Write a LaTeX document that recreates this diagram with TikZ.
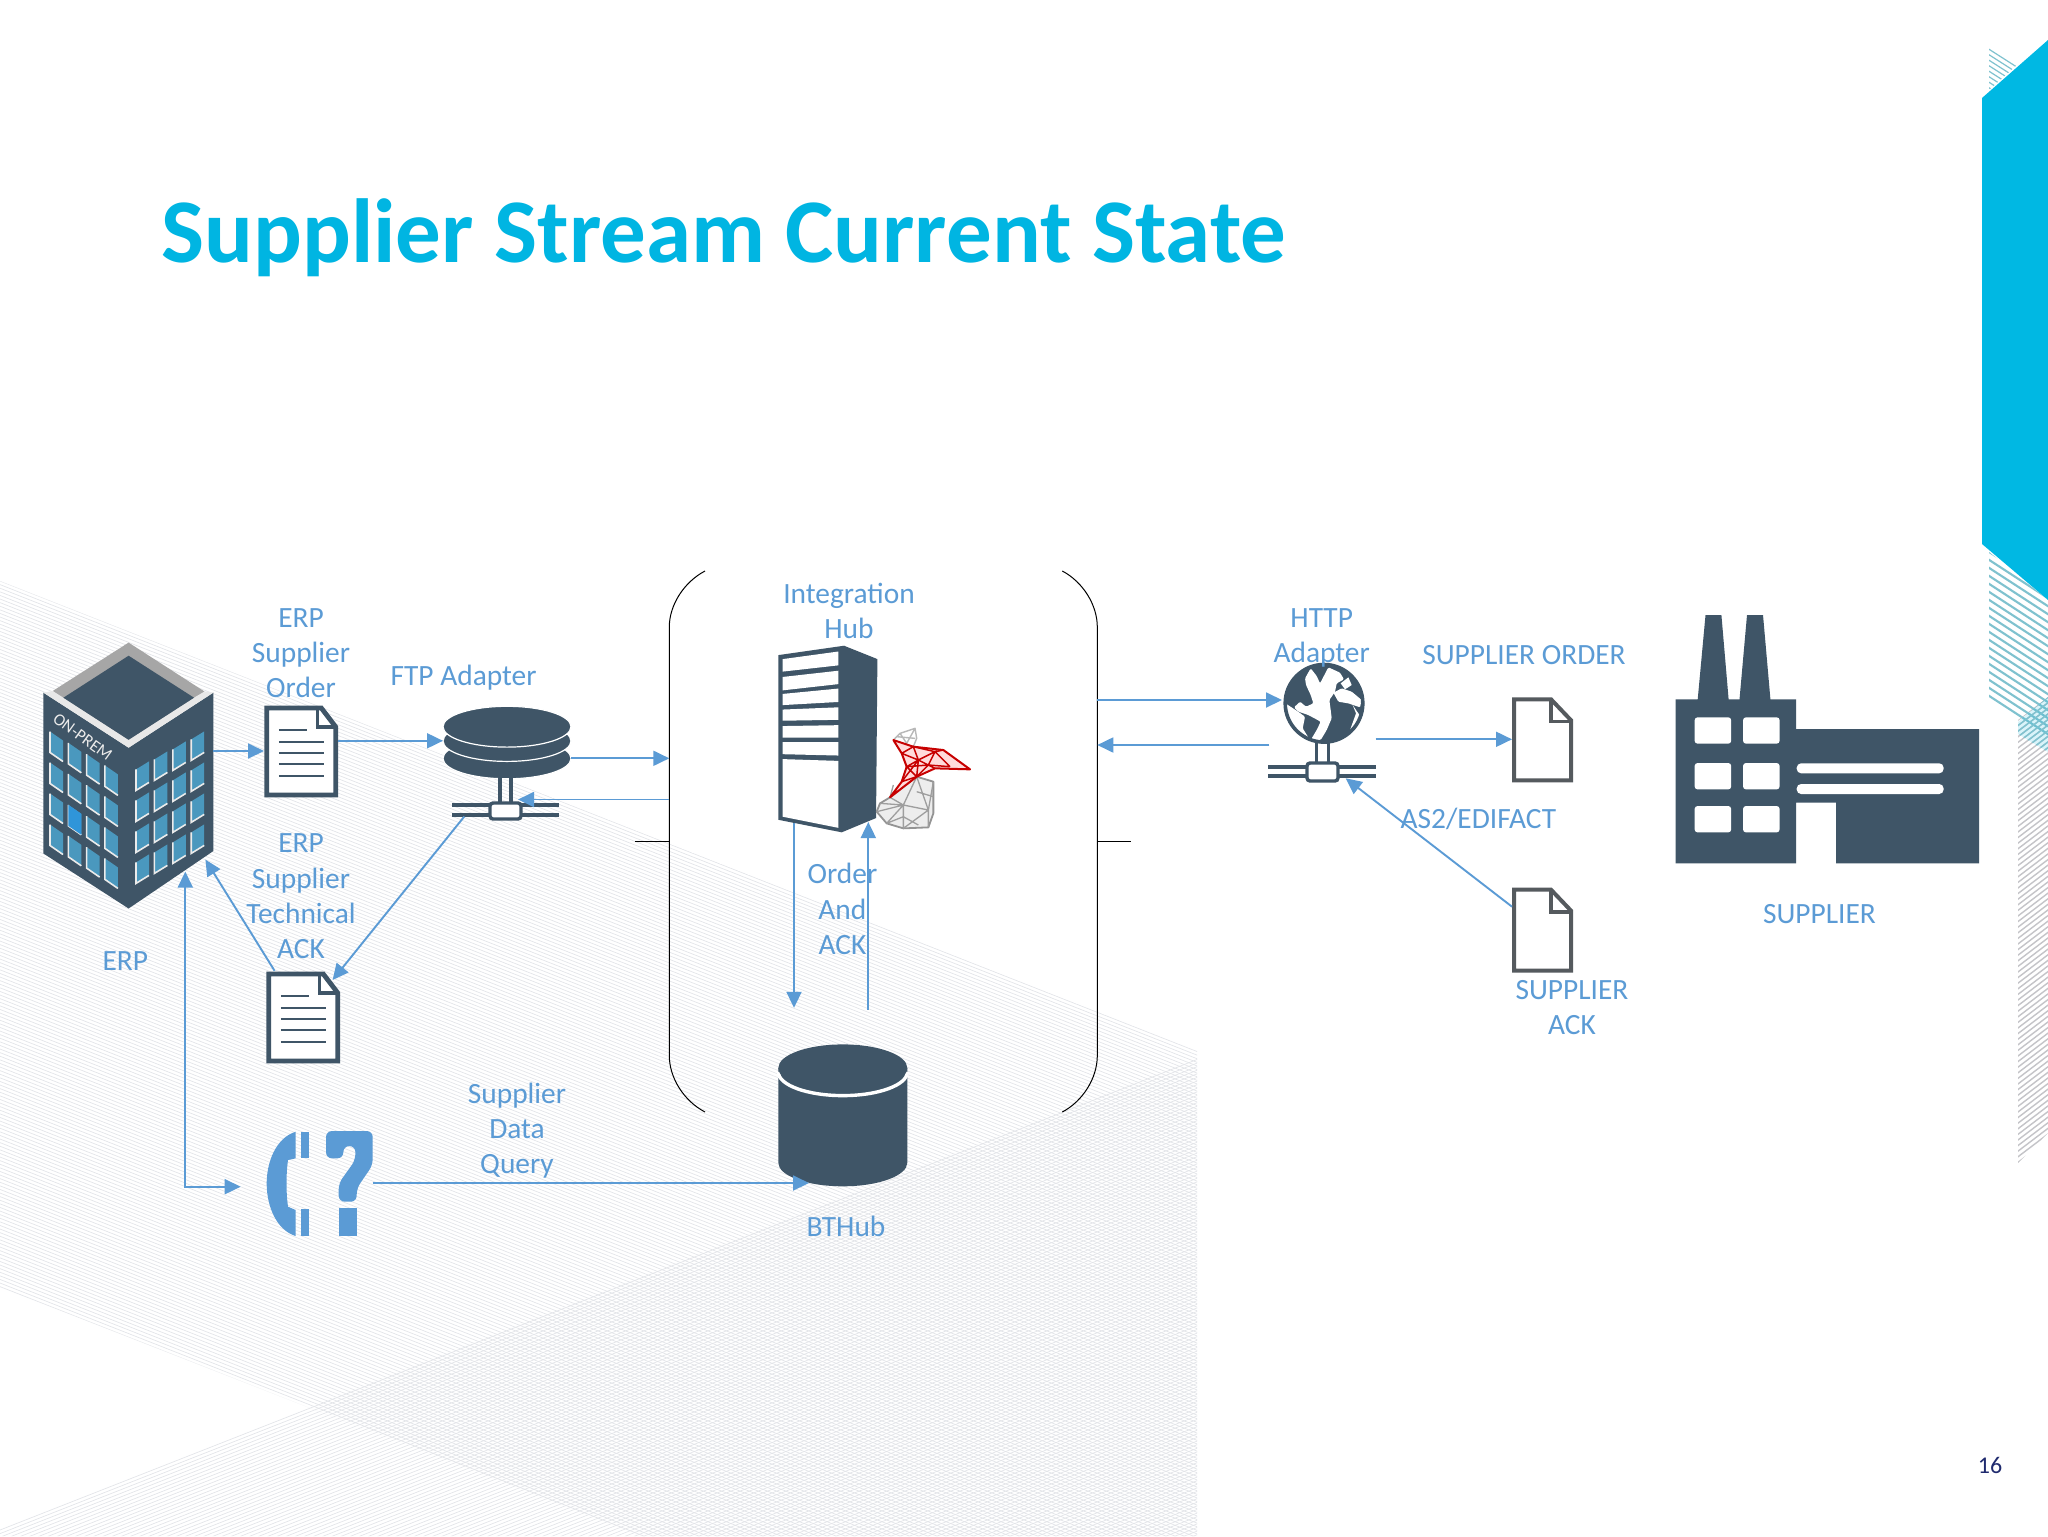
\documentclass[tikz,border=0pt]{standalone}
\usepackage{fontspec}
\setmainfont{Carlito}
\usetikzlibrary{arrows.meta}
\definecolor{ln}{HTML}{5B9BD5}
\definecolor{dk}{HTML}{3F5567}
\definecolor{cy}{HTML}{00B8E3}
\definecolor{ttl}{HTML}{00B5E2}
\definecolor{hatch}{HTML}{E2E4E8}
\definecolor{teal}{HTML}{7FC2CF}
\definecolor{graph}{HTML}{C4C4C8}
\definecolor{win}{HTML}{4A98BE}
\definecolor{docg}{HTML}{555A5E}
\tikzset{
  box/.style={inner sep=0,outer sep=0},
  conn/.style={draw=ln,line width=.95pt,-{Triangle[length=8pt,width=7.5pt]}},
  lbl/.style={text=ln,align=center,inner sep=0,font=\fontsize{14.7}{17.65}\selectfont},
  wedge/.style={draw=dk,line width=2.4pt,fill=white,miter limit=4},
  docline/.style={draw=dk,line width=1.3pt},
  blank/.style={draw=docg,line width=2pt,fill=white},
  hubline/.style={draw=black,line width=.5pt},
  busl/.style={draw=dk,line width=1.7pt},
}
\newcommand{\mydoc}[2]{%
 \begin{scope}[shift={(#1,#2)}]
  \draw[wedge] (2.5,2) -- (57,2) -- (71.5,21) -- (71.5,89) -- (2.5,89) -- cycle;
  \draw[draw=dk,line width=1.6pt] (53,3) -- (53,21) -- (71,21);
  \draw[docline] (14.5,24) -- (43,24);
  \foreach \yy in {36,47,58,70} \draw[docline] (14.5,\yy) -- (60,\yy);
 \end{scope}}
\newcommand{\myblank}[2]{%
 \begin{scope}[shift={(#1,#2)}]
  \draw[blank] (2,2) -- (39,2) -- (59,23) -- (59,83) -- (2,83) -- cycle;
  \draw[draw=docg,line width=1.8pt] (39,2) -- (39,24) -- (59,24);
 \end{scope}}
\begin{document}
\begin{tikzpicture}[x=0.5pt,y=-0.5pt]
\useasboundingbox (0,0) rectangle (2048,1536);
\fill[white] (0,0) rectangle (2048,1536);
% background bands
\begin{scope}
 \clip (0,581) -- (1197,1051) -- (1197,1536) -- (638,1536) -- (0,1287) -- cycle;
 \foreach \k in {0,...,270} \draw[hatch,line width=.32pt] (0,{581+3.6*\k}) -- (1300,{581+3.6*\k+511});
\end{scope}
\begin{scope}
 \clip (0,1523) -- (298,1403) -- (1197,1056) -- (1197,1536) -- (0,1536) -- cycle;
 \foreach \k in {0,...,135} \draw[hatch,line width=.32pt] (0,{1530+3.6*\k}) -- (1300,{1530+3.6*\k-511});
\end{scope}
% right decoration
\begin{scope}
 \clip (2018,720) -- (2048,697) -- (2048,1133) -- (2018,1163) -- cycle;
 \foreach \k in {0,...,90} \draw[graph,line width=.7pt] (2010,{726+5.6*\k}) -- (2060,{726+5.6*\k-38});
\end{scope}
\begin{scope}
 \clip (1989,552) -- (2048,600) -- (2048,738) -- (1989,702) -- cycle;
 \foreach \k in {0,...,24} \draw[teal,line width=1.05pt] (1980,{546+8*\k}) -- (2060,{546+8*\k+52});
\end{scope}
\begin{scope}
 \clip (2018,722) -- (2048,697) -- (2048,752) -- (2018,734) -- cycle;
 \fill[cy,opacity=.15] (2018,697) rectangle (2048,752);
 \foreach \k in {0,...,10} \draw[teal,line width=.7pt] (2010,{726+5.6*\k}) -- (2060,{726+5.6*\k-38});
\end{scope}
\begin{scope}
 \clip (1989,45) -- (2018,64) -- (1989,90) -- cycle;
 \foreach \k in {0,...,10} \draw[teal,line width=.6pt] (1980,{38+5.5*\k}) -- (2030,{38+5.5*\k+32});
\end{scope}
\fill[cy] (1982,98) -- (2048,40) -- (2048,600) -- (1982,544) -- cycle;

% title and page number
\node[anchor=base west,inner sep=0,text=ttl,font=\fontsize{45.5}{54}\selectfont\bfseries] (title) at (161,262) {Supplier Stream Current State};
\node[inner sep=0,text={rgb,255:red,31;green,42;blue,110},font=\fontsize{12}{14}\selectfont] (page) at (1990,1465) {16};

% hub bracket
\node[box,minimum width=214pt,minimum height=270.5pt] (hub) at (883.3,841.5) {};
\draw[hubline] (705,571) .. controls (684,582) and (669.3,605) .. (669.3,627) -- (669.3,1055.5) .. controls (669.3,1078) and (684,1101) .. (705,1112);
\draw[hubline] (1062.3,571) .. controls (1083,582) and (1097.3,605) .. (1097.3,627) -- (1097.3,1055.5) .. controls (1097.3,1078) and (1083,1101) .. (1062.3,1112);
\draw[hubline] (635,841.7) -- (669.3,841.7);
\draw[hubline] (1097.3,841.7) -- (1131,841.7);

% ERP building
\node[box,minimum width=85pt,minimum height=133pt] (erp) at (128.4,775.5) {};
\fill[dk] (43.3,692.6) -- (128.6,747.7) -- (213.4,692.6) -- (213.4,851) -- (128.6,908.5) -- (43.3,853.4) -- cycle;
\fill[black!35] (128.6,642.6) -- (52.7,691) -- (128.6,747.7) -- (204.5,691.5) -- cycle;
\fill[black!9] (52.7,691) -- (63.4,697.7) -- (128.6,739.8) -- (194,697.7) -- (204.5,691.5) -- (213.4,692.6) -- (128.6,747.7) -- (43.3,692.6) -- cycle;
\fill[dk] (128.6,655.7) -- (194,697.7) -- (128.6,739.8) -- (63.4,697.7) -- cycle;
\foreach \c in {0,1,2,3} \foreach \r in {0,1,2,3} {
  \pgfmathsetmacro{\xa}{50+18.3*\c}
  \pgfmathsetmacro{\ya}{731.5+11.3*\c+31*\r}
  \fill[win] (\xa,\ya) -- (\xa+13,\ya+9) -- (\xa+13,\ya+30) -- (\xa,\ya+21) -- cycle;
  \draw[white!92!black,line width=.8pt] (\xa,\ya) -- (\xa,\ya+21) -- (\xa+13,\ya+30);
  \pgfmathsetmacro{\xb}{136+18.4*\c}
  \pgfmathsetmacro{\yb}{769.4-10*\c+31*\r}
  \fill[win] (\xb,\yb) -- (\xb+13,\yb-8) -- (\xb+13,\yb+13) -- (\xb,\yb+21) -- cycle;
  \draw[white!92!black,line width=.8pt] (\xb,\yb) -- (\xb,\yb+21) -- (\xb+13,\yb+13);
}
\fill[cyan!70!blue!85] (68.3,804.8) -- (81.3,813.8) -- (81.3,834.8) -- (68.3,825.8) -- cycle;
\node[inner sep=0,text=white!92!black,rotate=-36,font=\fontsize{8.5}{10}\selectfont] (onprem) at (82.6,737) {ON-PREM};

% documents
\node[box,minimum width=37pt,minimum height=45.5pt] (sord) at (301,751.5) {};
\mydoc{264.3}{706}
\node[box,minimum width=37pt,minimum height=45.5pt] (sack) at (303,1017.5) {};
\mydoc{266.3}{972}

% FTP adapter
\node[box,minimum width=64pt,minimum height=56.5pt] (ftp) at (507,762.5) {};
\draw[white,fill=dk,line width=.6pt] (507,758.4) ellipse [x radius=32pt,y radius=10.2pt];
\draw[white,fill=dk,line width=.6pt] (507,741) ellipse [x radius=32pt,y radius=10.2pt];
\draw[white,fill=dk,line width=.6pt] (507,726.7) ellipse [x radius=32pt,y radius=10.2pt];
\draw[busl] (500,778) -- (500,803);
\draw[busl] (511,778) -- (511,803);
\draw[busl] (452,805) -- (559,805);
\draw[busl] (452,815) -- (559,815);
\draw[draw=dk,fill=white,line width=1.7pt,rounded corners=1.5pt] (490,803) rectangle (521,819);

% server
\node[box,minimum width=49.5pt,minimum height=93.3pt] (srv) at (827.8,739) {};
\begin{scope}[shift={(640,560)},x=0.1667pt,y=-0.2232pt]
 \fill[dk] (415,213) -- (612,192) -- (712,222) -- (708,578) -- (605,610) -- (415,582) -- cycle;
 \foreach \a/\b/\cc/\d in {222/250/205/236,262/292/248/278,300/325/288/318,335/360/330/358,372/398/370/398,408/435/408/438,446/575/450/600}
  \fill[white] (428,\a) -- (595,\cc) -- (595,\d) -- (428,\b) -- cycle;
\end{scope}
% SQL logo
\node[box,minimum width=48pt,minimum height=51pt] (sql) at (913,775) {};
\begin{scope}[shift={(860,710)},x=0.1667pt,y=-0.1667pt]
 \fill[black!7] (90,262) -- (60,280) -- (50,305) -- (80,340) -- (130,355) -- (205,352) -- (220,310) -- (220,215) -- (170,200) -- cycle;
 \draw[black!42,line width=.9pt,line join=round] (90,262) -- (60,280) -- (50,305) -- (80,340) -- (130,355) -- (205,352) -- (220,310) -- (220,215) -- (170,200);
 \draw[black!38,line width=.65pt] (90,262) -- (130,285) -- (50,305) (130,285) -- (80,340) (130,285) -- (130,355) (130,285) -- (170,200) (130,285) -- (205,300) -- (205,352) (205,300) -- (170,200) (205,300) -- (220,215) (130,355) -- (205,300) (100,225) -- (90,262) (60,280) -- (130,285) (80,340) -- (130,320) -- (175,345) (170,245) -- (220,260);
 \draw[black!28,line width=.7pt,line join=round] (100,90) -- (120,70) -- (165,55) -- (170,85) -- (160,110) (120,70) -- (140,100) -- (165,55) (110,80) -- (165,85);
 \fill[red!14] (100,90) -- (160,110) -- (250,120) -- (330,178) -- (225,175) -- (170,200) -- (90,262) -- (125,215) -- (140,170) -- (125,130) -- cycle;
 \draw[red!78!black,line width=1pt,line join=round] (100,90) -- (160,110) -- (250,120) -- (330,178) -- (225,175) -- (170,200) -- (90,262) -- (125,215) -- (140,170) -- (125,130) -- cycle;
 \draw[red!78!black,line width=.75pt] (125,130) -- (160,110) -- (175,150) -- (140,170) -- (170,200) -- (205,165) -- (175,150) -- (225,125) -- (205,165) -- (225,175) (225,125) -- (270,170) (225,125) -- (250,120) (125,215) -- (170,200) (205,165) -- (270,170) (160,110) -- (225,125) (140,170) -- (205,165) (175,150) -- (170,200) (125,215) -- (175,150) (125,130) -- (175,150);
\end{scope}

% BTHub cylinder
\node[box,minimum width=64.5pt,minimum height=71pt] (bthub) at (842.8,1115.4) {};
\fill[dk] (778.3,1068) -- (778.3,1162.7) arc[start angle=180,end angle=360,x radius=32.25pt,y radius=11.8pt] -- (907.3,1068) -- cycle;
\draw[white,line width=1.7pt] (778.3,1072) arc[start angle=180,end angle=360,x radius=32.25pt,y radius=11.8pt];
\fill[dk] (842.8,1068) ellipse [x radius=32.25pt,y radius=11.8pt];

% HTTP adapter
\node[box,minimum width=53.6pt,minimum height=59pt] (http) at (1322,722) {};
\fill[dk] (1324,703.3) circle (20pt);
\begin{scope}[shift={(1270,650)},x=0.1667pt,y=-0.1667pt]
 \fill[white,rounded corners=.6pt] (122,55) -- (140,78) -- (150,100) -- (175,52) -- (210,68) -- (222,88) -- (200,100) -- (195,125) -- (178,150) -- (182,180) -- (185,205) -- (170,240) -- (152,270) -- (122,270) -- (140,240) -- (152,215) -- (115,195) -- (85,185) -- (72,172) -- (90,155) -- (108,170) -- (130,160) -- (122,135) -- (108,105) -- (105,85) -- cycle;
 \fill[white,rounded corners=.6pt] (46,160) -- (80,182) -- (105,200) -- (98,235) -- (120,270) -- (78,255) -- (50,210) -- cycle;
 \fill[white,rounded corners=.5pt] (190,128) -- (215,115) -- (245,125) -- (275,150) -- (270,172) -- (235,160) -- (205,155) -- cycle;
 \fill[white] (248,165) -- (275,205) -- (240,240) -- (258,190) -- cycle;
 \fill[white] (212,100) -- (235,82) -- (245,105) -- (225,118) -- cycle;
\end{scope}
\draw[dk,line width=1.8pt] (1324,703.3) circle (19.4pt);
\draw[busl] (1316.3,743) -- (1316.3,763);
\draw[busl] (1328.7,743) -- (1328.7,763);
\draw[busl] (1268.4,767) -- (1375.6,767);
\draw[busl] (1268.4,776) -- (1375.6,776);
\draw[draw=dk,fill=white,line width=1.7pt,rounded corners=1.5pt] (1307,763) rectangle (1338,781);

% blank documents
\node[box,minimum width=30.5pt,minimum height=42.5pt] (order) at (1542.5,739.8) {};
\myblank{1512}{697.3}
\node[box,minimum width=30.5pt,minimum height=42.5pt] (suppack) at (1542.5,930.2) {};
\myblank{1512}{887.7}

% factory
\node[box,minimum width=152pt,minimum height=124pt] (supplier) at (1827.3,739) {};
\fill[dk] (1675.6,699.3) -- (1697.7,699.3) -- (1705.5,615) -- (1721.4,615) -- (1728.6,699.3) -- (1739.5,699.3) -- (1747,615) -- (1763,615) -- (1770.4,699.3) -- (1796,699.3) -- (1796,729) -- (1979,729) -- (1979,863.3) -- (1836,863.3) -- (1836,802.7) -- (1796,802.7) -- (1796,863.3) -- (1675.6,863.3) -- cycle;
\foreach \xa in {1694.6,1743} \foreach \ya in {717.3,763,806}
  \fill[white,rounded corners=1.5pt] (\xa,\ya) rectangle (\xa+36.6,\ya+26.4);
\fill[white,rounded corners=2.2pt] (1796.7,763.3) rectangle (1943.6,773.3);
\fill[white,rounded corners=2.2pt] (1796.7,784) rectangle (1943.6,794);

% phone with question mark
\node[box,minimum width=53pt,minimum height=52.5pt] (call) at (319.7,1183.5) {};
\begin{scope}[shift={(200,1060)},x=0.1667pt,y=-0.1667pt]
 \fill[ln] (287,215) .. controls (225,235) and (200,310) .. (200,370) .. controls (200,440) and (230,510) .. (287,528) -- (287,450) -- (264,440) .. controls (258,400) and (258,340) .. (264,300) -- (287,295) -- cycle;
 \fill[ln] (303,215) rectangle (328,295);
 \fill[ln] (303,448) rectangle (328,528);
 \fill[ln,rounded corners=3pt] (378,295) -- (378,213) -- (518,213) -- (518,315) -- (470,385) -- (470,425) -- (416,425) -- (416,370) -- (466,300) -- (466,258) -- (430,258) -- (430,295) -- cycle;
 \fill[ln] (416,445) rectangle (470,528);
\end{scope}

% connectors
\draw[conn] (erp.east |- 0,751) -- (sord.west |- 0,751);
\draw[conn] (sord.east |- 0,740.8) -- (ftp.west |- 0,740.8);
\draw[conn] (ftp.east |- 0,758.3) -- (hub.west |- 0,758.3);
\draw[conn] (hub.west |- 0,799.5) -- ([xshift=5.5pt]ftp.center |- 0,799.5);
\draw[conn] ([xshift=10.65pt,yshift=1.25pt]ftp.south west) -- ([xshift=-3.7pt,yshift=-4pt]sack.north east);
\draw[conn] ([xshift=4.3pt,yshift=.6pt]sack.north west) -- ([xshift=-4pt,yshift=24.45pt]erp.south east);
\draw[draw=ln,line width=.95pt,{Triangle[length=8pt,width=7.5pt]}-{Triangle[length=8pt,width=7.5pt]}] ([xshift=-14.05pt,yshift=18.45pt]erp.south east) |- ([xshift=-13pt,yshift=-1.6pt]call.west);
\draw[conn] (call.east |- 0,1183) -- ([xshift=15.35pt]bthub.west |- 0,1183);
\draw[conn] ([xshift=-16.9pt,yshift=4.65pt]srv.south) -- ([xshift=-24.4pt,yshift=18.3pt]bthub.north);
\draw[conn] ([xshift=12.75pt,yshift=17.45pt]bthub.north) -- ([xshift=20.25pt,yshift=5.15pt]srv.south);
\draw[conn] (hub.east |- 0,700) -- ([xshift=6.8pt]http.west |- 0,700);
\draw[conn] ([xshift=.5pt]http.west |- 0,745) -- (hub.east |- 0,745);
\draw[conn] (http.east |- 0,739.3) -- (order.west |- 0,739.3);
\draw[conn] (suppack.west |- 0,906.7) -- ([xshift=-14.95pt,yshift=1.35pt]http.south east);

% labels
\node[lbl] (l1) at (301,653) {ERP\\Supplier\\Order};
\node[lbl] (l2) at (463.6,677.5) {FTP Adapter};
\node[lbl] (l3) at (301,896.5) {ERP\\Supplier\\Technical\\ACK};
\node[lbl] (l4) at (125.4,961.5) {ERP};
\node[lbl] (l5) at (849,611) {Integration\\Hub};
\node[lbl] (l6) at (842.4,909) {Order\\And\\ACK};
\node[lbl] (l7) at (1321.7,638) {HTTP\\Adapter};
\node[lbl] (l8) at (1524,655.5) {SUPPLIER ORDER};
\node[lbl] (l9) at (1478.4,818.9) {AS2/EDIFACT};
\node[lbl] (l10) at (1572,1007.5) {SUPPLIER\\ACK};
\node[lbl] (l11) at (1819.5,914) {SUPPLIER};
\node[lbl] (l12) at (517,1130.8) {Supplier\\Data\\Query};
\node[lbl] (l13) at (846,1226.4) {BTHub};
\end{tikzpicture}
\end{document}
